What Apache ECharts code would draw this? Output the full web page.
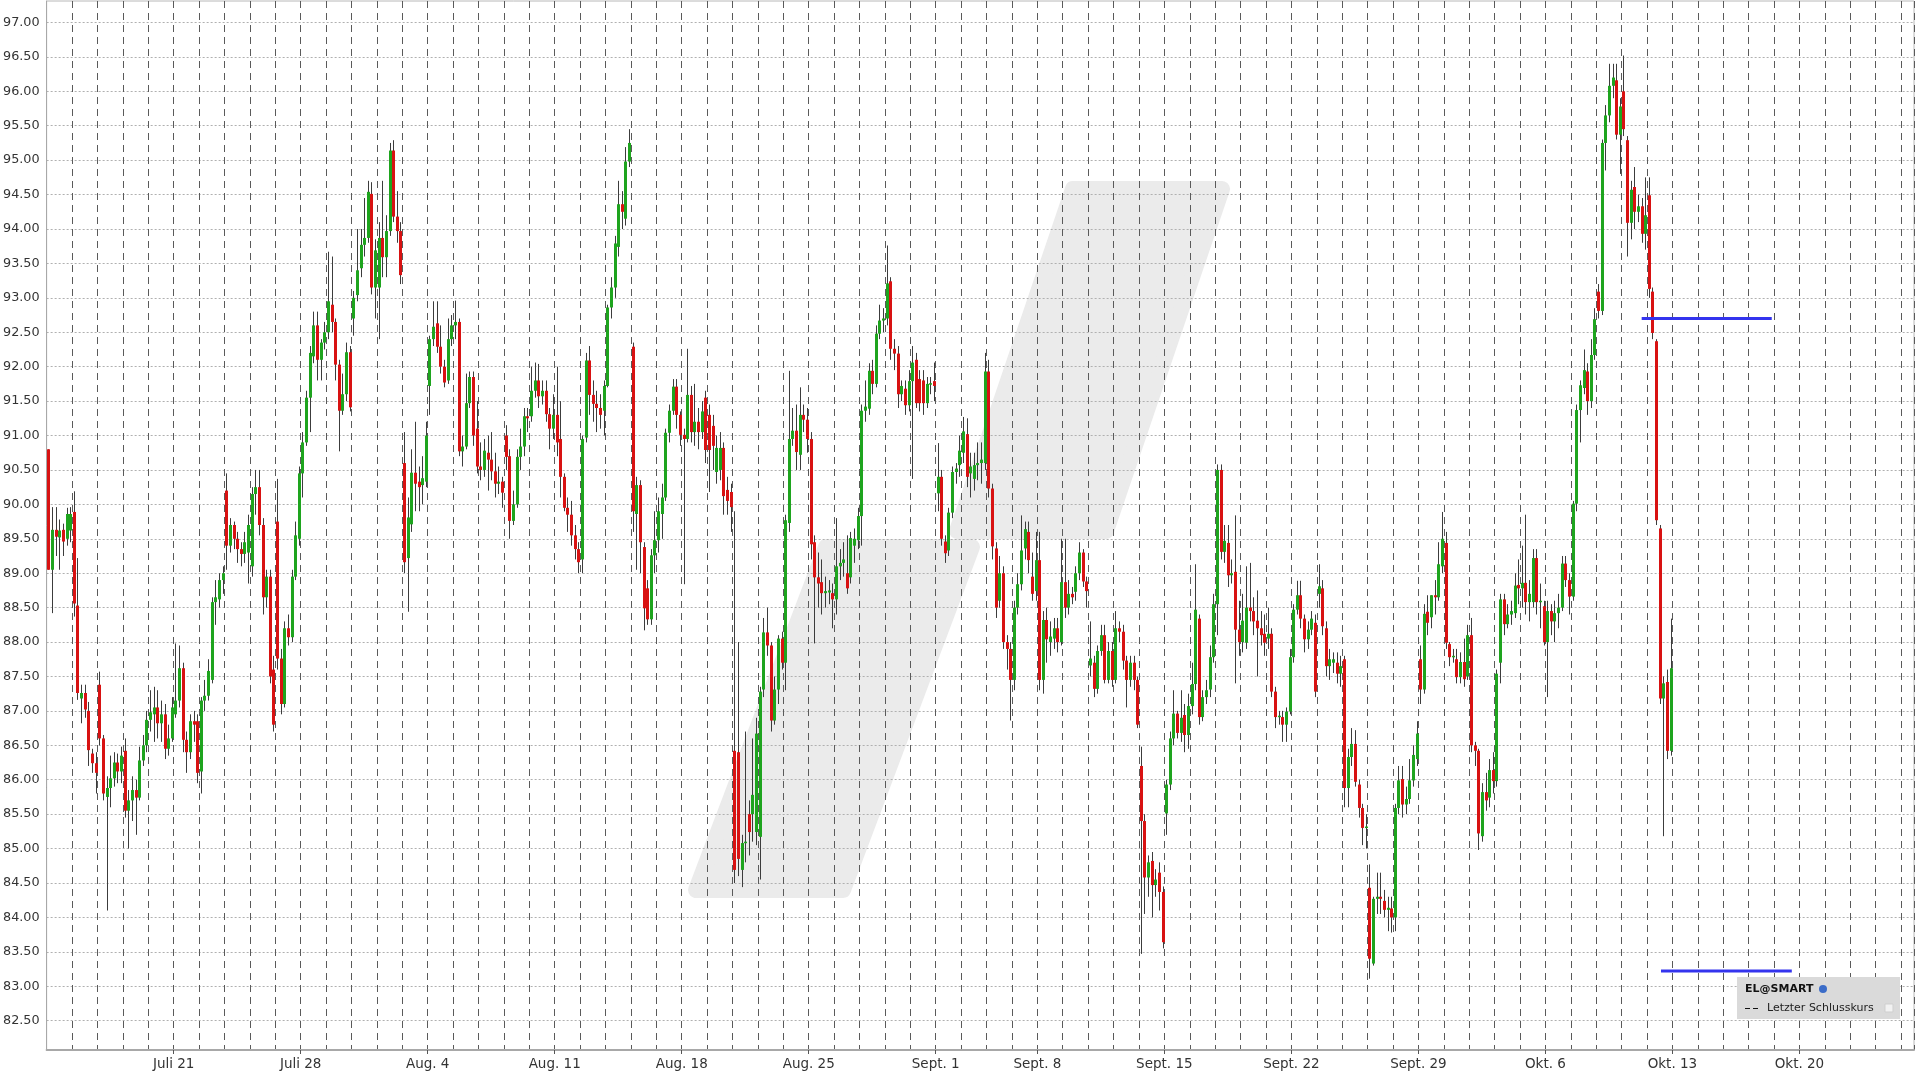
<!DOCTYPE html>
<html><head><meta charset="utf-8">
<script src="https://cdn.jsdelivr.net/npm/echarts@6/dist/echarts.min.js"></script>
<style>html,body{margin:0;padding:0;background:#fff}#c{width:1920px;height:1080px}</style>
</head><body><div id="c"></div>
<script>
// ---- tick labels ----
const weekLabels = ['Juli 21','Juli 28','Aug. 4','Aug. 11','Aug. 18','Aug. 25','Sept. 1','Sept. 8','Sept. 15','Sept. 22','Sept. 29','Okt. 6','Okt. 13','Okt. 20'];
const weekLabelDays = [5,10,15,20,25,30,35,39,44,49,54,59,64,69]; // trading-day index of each label
const yTickValues = [82.5,83,83.5,84,84.5,85,85.5,86,86.5,87,87.5,88,88.5,89,89.5,90,90.5,91,91.5,92,92.5,93,93.5,94,94.5,95,95.5,96,96.5,97];

// ---- hourly candles [open, close, low, high], 7 per trading day ----
const wk0714 = [
 [[90.80,89.05,89.05,90.80],[89.05,89.63,88.42,89.96],[89.63,89.53,89.25,89.96],[89.52,89.62,89.05,89.78],[89.63,89.46,89.25,89.72],[89.50,89.86,89.40,89.95],[89.62,89.86,89.45,89.96]],
 [[89.89,88.56,88.37,90.19],[88.53,87.26,87.16,89.22],[87.18,87.26,86.82,87.38],[87.26,87.02,86.90,87.38],[87.00,86.43,86.20,87.13],[86.38,86.24,86.10,86.45],[86.24,86.10,85.80,86.40]],
 [[87.38,86.60,86.50,87.57],[86.60,85.80,85.70,86.65],[85.75,85.88,84.10,86.05],[85.88,86.02,85.60,86.35],[86.02,86.25,85.90,86.40],[86.25,86.12,85.95,86.38],[86.12,86.35,85.95,86.48]],
 [[86.42,85.55,85.45,86.60],[85.55,85.70,85.00,85.85],[85.70,85.85,85.40,86.05],[85.85,85.74,85.20,86.00],[85.74,86.28,85.70,86.48],[86.28,86.50,86.20,86.65],[86.50,86.87,86.40,87.00]],
 [[86.87,86.98,86.70,87.30],[86.95,87.05,86.55,87.35],[87.05,86.82,86.60,87.30],[86.82,86.95,86.55,87.15],[86.95,86.45,86.30,87.10],[86.45,86.60,86.35,86.80],[86.60,87.05,86.55,87.20]]
];
const wk0721 = [
 [[86.95,87.15,86.90,87.98],[87.15,87.62,87.05,87.95],[87.62,86.58,86.40,87.70],[86.58,86.40,86.10,86.70],[86.40,86.85,86.30,86.95],[86.85,86.80,86.55,87.00],[86.85,86.10,85.95,86.95]],
 [[86.12,87.15,85.80,87.20],[87.15,87.22,87.00,87.45],[87.22,87.58,87.15,87.75],[87.45,88.58,87.40,88.65],[88.58,88.65,88.25,88.90],[88.62,88.90,88.50,89.00],[88.90,89.00,88.70,89.10]],
 [[90.20,89.40,89.05,90.45],[89.40,89.70,89.30,89.80],[89.70,89.50,89.35,89.75],[89.50,89.35,89.15,89.60],[89.35,89.28,89.10,89.45],[89.28,89.45,89.15,89.60],[89.30,89.70,88.85,89.85]],
 [[89.10,90.15,88.95,90.25],[90.15,90.25,89.85,90.50],[90.25,89.70,89.55,90.50],[89.70,88.65,88.40,89.80],[88.65,88.95,88.50,89.05],[88.95,87.50,87.40,89.05],[87.60,86.80,86.70,87.80]],
 [[89.75,87.76,87.60,90.37],[87.76,87.10,86.95,87.90],[87.10,88.20,87.05,88.30],[88.20,88.07,87.95,88.40],[88.07,88.95,88.00,89.05],[88.95,89.55,88.90,89.75],[89.50,90.45,89.40,90.55]]
];
const wk0728 = [
 [[90.45,90.90,90.10,91.05],[90.90,91.55,90.85,91.65],[91.55,92.20,91.05,92.30],[92.15,92.60,92.05,92.80],[92.60,92.10,91.80,92.80],[92.10,92.35,91.80,92.40],[92.35,92.50,92.25,92.65]],
 [[92.50,92.95,92.40,93.67],[92.90,92.65,92.50,93.60],[92.65,92.03,91.80,92.70],[92.03,91.36,90.77,92.10],[91.36,91.60,91.30,91.90],[91.60,92.21,91.50,92.35],[92.21,91.41,91.35,92.30]],
 [[92.70,93.00,92.45,93.10],[93.04,93.40,92.95,94.00],[93.43,93.77,93.30,94.00],[93.77,93.87,93.60,94.45],[93.87,94.54,93.80,94.70],[94.51,93.15,93.05,94.68],[93.15,93.69,92.70,93.85]],
 [[93.15,93.87,92.40,94.10],[93.87,93.59,93.30,94.70],[93.59,93.97,93.30,94.20],[93.97,95.14,93.90,95.25],[95.14,94.18,94.10,95.29],[94.18,93.97,93.80,94.55],[93.97,93.33,93.20,94.10]],
 [[90.60,89.16,89.00,91.05],[89.22,89.81,88.44,90.10],[89.71,90.46,89.60,90.80],[90.46,90.30,89.90,91.20],[90.33,90.25,89.90,90.55],[90.28,90.38,90.00,90.70],[90.33,91.00,90.25,91.20]]
];
const wk0804 = [
 [[91.72,92.40,91.30,92.45],[92.40,92.58,92.30,92.95],[92.63,92.29,92.20,92.95],[92.29,92.00,91.90,92.60],[92.00,91.77,91.70,92.10],[91.80,92.40,91.75,92.70],[92.40,92.60,92.30,92.75]],
 [[92.60,92.65,92.40,92.96],[92.65,90.77,90.70,92.70],[90.77,90.84,90.55,91.00],[90.84,91.47,90.80,91.90],[91.47,91.85,91.40,91.93],[91.85,91.00,90.85,91.93],[91.10,90.55,90.45,91.50]],
 [[90.55,90.50,90.35,90.90],[90.50,90.78,90.40,90.95],[90.75,90.65,90.20,91.00],[90.65,90.48,90.35,91.05],[90.48,90.30,90.10,90.75],[90.30,90.33,90.15,90.55],[90.33,90.17,89.95,90.40]],
 [[91.00,90.69,90.50,91.15],[90.70,89.76,89.50,90.80],[89.76,90.00,89.70,90.20],[90.00,90.69,89.95,90.80],[90.69,90.84,90.50,91.10],[90.84,91.28,90.70,91.40],[91.28,91.25,91.05,91.40]],
 [[91.28,91.65,91.20,92.00],[91.65,91.80,91.55,92.06],[91.80,91.57,91.40,92.04],[91.57,91.65,91.45,91.80],[91.65,91.31,91.20,91.80],[91.31,91.10,90.80,91.40],[91.10,91.30,90.95,91.60]]
];
const wk0811 = [
 [[91.30,90.90,90.70,92.00],[90.95,90.40,90.10,91.50],[90.40,89.95,89.90,90.45],[89.95,89.85,89.60,90.10],[89.85,89.55,89.40,90.05],[89.55,89.35,89.20,89.70],[89.35,89.16,89.00,89.45]],
 [[89.20,90.95,89.00,91.00],[90.97,92.09,90.90,92.20],[92.09,91.59,91.30,92.30],[91.59,91.46,91.20,91.80],[91.46,91.40,91.05,91.65],[91.40,91.30,91.10,91.60],[91.36,91.72,91.00,91.80]],
 [[91.72,92.86,91.70,92.90],[92.86,93.15,92.70,93.30],[93.15,93.79,93.00,93.90],[93.74,94.36,93.60,94.70],[94.36,94.25,94.00,94.55],[94.15,94.98,94.05,95.19],[94.98,95.25,94.90,95.45]],
 [[92.29,89.90,89.60,92.35],[89.86,90.28,89.05,90.40],[90.28,89.45,89.00,90.35],[89.38,88.49,88.17,89.45],[88.78,88.33,88.25,88.90],[88.33,89.26,88.25,89.35],[89.26,89.48,89.00,89.90]],
 [[89.48,89.90,89.30,90.10],[89.86,90.10,89.50,90.30],[90.10,91.04,90.05,91.10],[91.04,91.36,90.90,91.45],[91.36,91.71,91.30,91.82],[91.71,91.30,91.10,91.82],[91.30,91.01,90.85,91.35]]
];
const wk0818 = [
 [[91.01,90.95,88.84,91.10],[90.95,91.59,90.90,92.26],[91.59,91.05,90.90,91.72],[91.05,91.20,90.85,91.75],[91.20,91.05,90.80,91.40],[91.05,91.35,90.95,91.50],[91.55,90.79,90.60,91.65]],
 [[91.30,90.79,90.18,91.45],[91.14,90.85,90.50,91.30],[90.47,90.82,90.30,91.00],[90.50,90.82,90.35,91.05],[90.82,90.12,89.85,90.90],[90.21,90.05,89.85,90.40],[90.18,89.96,89.60,90.30]],
 [[86.42,84.69,84.50,89.90],[86.40,84.85,84.60,88.00],[84.69,85.08,84.44,85.20],[85.08,85.10,84.80,86.70],[85.50,85.24,84.90,85.70],[85.50,85.78,85.10,86.60],[85.24,86.67,85.05,86.90]],
 [[85.17,87.28,84.55,87.35],[87.31,88.14,87.20,88.35],[88.14,87.95,87.80,88.50],[87.95,86.86,86.70,88.00],[86.86,87.31,86.80,87.50],[87.31,88.05,87.10,88.10],[88.05,87.70,87.60,88.15]],
 [[87.70,89.77,87.30,89.85],[89.73,90.95,89.60,91.94],[90.95,91.07,90.85,91.40],[91.07,90.76,90.50,91.45],[90.72,91.30,90.50,91.70],[91.30,91.23,91.05,91.45],[91.23,90.95,90.75,91.40]]
];
const wk0825 = [
 [[90.95,89.42,89.20,91.05],[89.45,88.94,87.98,89.55],[88.94,88.85,88.50,89.30],[88.87,88.71,88.40,89.20],[88.71,88.74,88.50,88.95],[88.72,88.75,88.55,88.90],[88.71,88.62,88.20,88.85]],
 [[88.62,89.10,88.40,89.80],[89.10,89.15,88.90,89.35],[89.15,89.20,88.95,89.45],[89.00,88.78,88.70,89.55],[88.94,89.51,88.85,89.60],[89.40,89.50,89.15,89.65],[89.48,89.83,89.35,89.95]],
 [[89.83,91.36,89.40,91.45],[91.36,91.42,91.20,91.80],[91.39,91.94,91.30,92.05],[91.94,91.75,91.60,92.10],[91.75,92.48,91.70,92.60],[92.48,92.67,92.40,92.90],[92.67,92.70,92.50,92.85]],
 [[92.70,93.21,92.60,93.76],[93.24,92.26,92.10,93.30],[92.26,92.19,91.95,92.40],[92.19,91.60,91.40,92.30],[91.60,91.72,91.50,91.80],[91.68,91.44,91.30,91.80],[91.44,91.79,91.35,91.95]],
 [[91.79,92.06,90.37,92.30],[92.10,91.47,91.40,92.20],[91.82,91.47,91.35,91.95],[91.80,91.47,91.30,91.95],[91.47,91.75,91.40,91.85],[91.75,91.76,91.60,91.85],[91.79,91.72,91.50,92.06]]
];
const wk0902 = [
 [[90.16,90.40,89.90,90.89],[90.40,89.50,89.40,90.50],[89.46,89.29,89.15,89.55],[89.33,89.88,89.25,89.95],[89.88,90.47,89.80,90.55],[90.47,90.52,90.30,90.60],[90.57,90.78,90.40,91.00]],
 [[90.75,91.06,90.60,91.27],[91.02,90.40,90.25,91.25],[90.45,90.55,90.10,90.75],[90.37,90.57,90.20,90.75],[90.57,90.60,90.35,90.90],[90.60,90.65,90.30,90.90],[90.60,91.93,90.50,92.20]],
 [[91.93,90.23,90.10,92.10],[90.23,89.39,89.20,90.30],[89.36,88.50,88.35,89.45],[88.60,89.00,88.50,89.25],[89.00,88.00,87.90,89.10],[88.00,87.90,87.60,88.10],[87.90,87.45,86.86,88.00]],
 [[87.45,88.50,87.30,88.60],[88.50,88.84,88.40,89.00],[88.84,89.33,88.75,89.84],[89.36,89.64,89.20,89.75],[89.60,89.19,89.00,89.75],[88.95,88.70,88.60,89.30],[88.74,89.19,88.60,89.60]]
];
const wk0908 = [
 [[89.19,87.45,87.30,89.60],[87.45,88.32,87.25,88.45],[88.32,88.04,87.70,88.50],[88.00,88.08,87.80,88.30],[88.05,88.20,87.90,88.35],[88.20,88.00,87.85,88.35],[88.00,88.87,87.95,89.50]],
 [[88.87,88.50,88.35,89.50],[88.50,88.70,88.40,88.90],[88.70,88.65,88.55,88.80],[88.73,89.00,88.60,89.10],[89.00,89.30,88.90,89.45],[89.30,88.88,88.80,89.35],[88.88,88.74,88.50,88.95]],
 [[87.66,87.76,87.50,88.30],[87.70,87.32,87.20,87.80],[87.32,87.87,87.25,87.95],[87.87,88.10,87.80,88.25],[88.10,87.45,87.40,88.25],[87.45,87.87,87.40,88.00],[87.87,87.45,87.35,88.00]],
 [[87.45,88.20,87.40,88.45],[88.20,88.15,88.00,88.30],[88.15,87.73,87.60,88.25],[87.73,87.45,87.05,87.80],[87.45,87.70,87.35,87.80],[87.70,87.45,87.30,87.80],[87.45,86.80,86.75,87.50]],
 [[86.20,85.40,83.47,86.48],[85.40,84.58,84.05,85.50],[84.58,84.80,84.30,84.90],[84.82,84.47,84.00,84.95],[84.47,84.55,84.30,84.70],[84.65,84.37,84.10,84.80],[84.37,83.64,83.55,84.45]]
];
const wk0915 = [
 [[85.51,85.93,85.20,86.00],[85.93,86.60,85.85,86.70],[86.60,86.96,86.50,87.30],[86.96,86.68,86.60,87.00],[86.68,86.90,86.55,87.30],[86.94,86.65,86.40,87.10],[86.65,87.07,86.45,87.25]],
 [[87.07,87.39,86.95,87.70],[87.39,88.47,87.30,89.13],[88.34,86.91,86.80,88.40],[86.91,87.20,86.85,87.30],[87.20,87.30,87.10,87.45],[87.31,87.78,87.20,87.95],[87.78,88.55,87.70,88.70]],
 [[88.55,90.50,88.10,90.58],[90.50,89.31,89.20,90.58],[89.31,89.47,89.15,89.70],[89.44,88.97,88.80,89.70],[88.97,89.00,88.85,89.20],[89.02,88.18,87.40,89.84],[88.18,88.00,87.80,88.60]],
 [[88.00,88.31,87.85,88.70],[87.99,88.50,87.90,89.10],[88.50,88.45,88.30,89.15],[88.45,88.30,88.10,88.65],[88.31,88.20,87.50,88.75],[88.20,88.10,87.95,88.45],[88.12,87.99,87.80,88.40]],
 [[88.05,88.12,87.90,88.50],[88.12,87.28,87.20,88.20],[87.28,86.91,86.75,87.35],[86.91,86.93,86.80,87.00],[86.91,86.80,86.55,87.00],[86.80,86.99,86.55,87.05],[86.99,87.78,86.95,87.90]]
];
const wk0922 = [
 [[87.78,88.47,87.70,88.55],[88.47,88.68,88.40,88.89],[88.68,88.34,88.20,88.89],[88.34,88.04,87.85,88.40],[88.04,88.18,87.90,88.30],[88.18,88.34,88.10,88.45],[88.28,87.28,87.20,88.40]],
 [[88.70,88.81,88.50,89.13],[88.78,88.23,88.10,88.90],[88.20,87.65,87.50,88.30],[87.65,87.75,87.45,87.90],[87.70,87.75,87.55,87.85],[87.70,87.54,87.40,87.85],[87.54,87.65,87.35,87.80]],
 [[87.75,85.88,85.60,87.80],[85.88,86.33,85.60,86.45],[86.33,86.52,86.20,86.75],[86.52,85.97,85.90,86.72],[85.93,85.59,85.45,86.00],[85.59,85.30,85.05,85.65],[85.30,85.32,85.00,85.50]],
 [[84.43,83.40,83.11,84.77],[83.33,84.27,83.30,84.30],[84.27,84.30,84.05,84.65],[84.30,84.27,84.05,84.65],[84.24,84.11,84.00,84.40],[84.11,84.14,83.80,84.30],[84.13,84.00,83.78,84.30]],
 [[84.00,85.59,83.80,85.65],[85.59,85.99,85.50,86.20],[86.01,85.64,85.45,86.20],[85.64,85.72,85.50,85.90],[85.72,85.99,85.65,86.30],[85.99,86.36,85.90,86.50],[86.30,86.67,86.20,86.85]]
];
const wk0929 = [
 [[87.75,87.31,87.10,87.95],[87.31,88.41,87.25,88.55],[88.44,88.28,88.10,88.68],[88.36,88.68,88.20,88.68],[88.68,88.65,88.40,88.90],[88.65,89.13,88.60,89.45],[89.10,89.50,89.00,89.89]],
 [[89.44,87.99,87.90,89.60],[87.97,87.78,87.65,88.00],[87.78,87.80,87.70,87.90],[87.75,87.49,87.40,87.90],[87.49,87.71,87.40,87.85],[87.71,87.46,87.35,88.05],[87.50,88.10,87.45,88.25]],
 [[88.10,86.50,86.40,88.35],[86.50,86.42,86.20,86.55],[86.42,85.22,84.98,86.45],[85.18,85.82,85.10,85.95],[85.82,85.70,85.55,86.10],[85.74,86.14,85.60,86.30],[86.14,85.98,85.80,86.40]],
 [[85.98,87.54,85.90,87.60],[87.70,88.62,87.40,88.70],[88.62,88.26,88.10,88.70],[88.26,88.40,88.20,88.55],[88.40,88.45,88.25,88.60],[88.42,88.82,88.35,89.00],[88.83,88.78,88.55,89.20]],
 [[88.78,88.86,88.50,89.40],[88.86,88.58,88.40,89.85],[88.58,88.70,88.30,88.90],[88.58,89.22,88.50,89.35],[89.22,88.58,88.40,89.35],[88.58,88.60,88.20,88.85],[88.52,88.00,87.95,88.60]]
];
const wk1006 = [
 [[88.00,88.45,87.20,88.60],[88.45,88.30,88.10,88.55],[88.30,88.42,88.00,88.60],[88.42,88.50,88.20,88.70],[88.50,89.14,88.45,89.25],[89.14,88.90,88.80,89.25],[88.90,88.66,88.40,89.00]],
 [[88.66,90.01,88.60,90.05],[90.01,91.37,89.90,91.45],[91.37,91.73,90.90,91.80],[91.69,91.95,91.60,92.25],[91.93,91.50,91.30,92.05],[91.50,92.17,91.40,92.40],[92.17,92.69,92.10,92.85]],
 [[93.09,92.81,92.70,93.20],[92.81,95.25,92.75,95.30],[95.25,95.65,94.85,95.80],[95.65,96.08,95.55,96.40],[96.08,96.20,95.90,96.40],[96.16,95.37,95.30,96.40],[95.37,95.78,94.80,95.90]],
 [[96.00,95.45,95.35,96.52],[95.29,94.09,93.60,95.35],[94.09,94.57,93.85,94.70],[94.61,94.25,94.00,94.90],[94.25,94.33,94.10,94.50],[94.33,93.93,93.80,94.45],[93.93,94.20,93.70,94.75]],
 [[94.49,93.13,93.00,94.75],[93.09,92.49,92.40,93.15],[92.37,89.77,89.70,92.40],[89.65,87.18,87.10,89.70],[87.18,87.40,85.18,87.50],[87.42,86.42,86.30,87.60],[86.42,87.62,86.35,88.34]]
];

// ---- horizontal blue levels: [startDay, endDay, price] ----
const levelUpper = [62.79, 67.91, 92.70];
const levelLower = [63.55, 68.70, 83.22];

const weeks = [wk0714, wk0721, wk0728, wk0804, wk0811, wk0818, wk0825, wk0902, wk0908, wk0915, wk0922, wk0929, wk1006];
const SLOTS = 7;
const candles = [];
let dayIdx = 0;
weeks.forEach(w => w.forEach(day => {
  day.forEach((c, s) => candles.push([dayIdx + (s + 0.5) / SLOTS, c[0], c[1], c[2], c[3]]));
  dayIdx++;
}));
const labelMap = {};
weekLabelDays.forEach((d, i) => { labelMap[d] = weekLabels[i]; });

const X_MAX = 73.51;
const FONT = 'DejaVu Sans';
const chart = echarts.init(document.getElementById('c'), null, {renderer: 'canvas'});

function wm(points) {
  return { type: 'polygon', z: -10, silent: true,
    shape: { points },
    style: { fill: '#ebebeb', stroke: '#ebebeb', lineWidth: 16, lineJoin: 'round' } };
}

chart.setOption({
  animation: false,
  backgroundColor: '#ffffff',
  grid: { left: 45, right: 6, top: 1, bottom: 30, show: true, borderColor: '#b8b8b8', borderWidth: 1, backgroundColor: 'transparent' },
  xAxis: [
    { type: 'value', min: 0, max: X_MAX, interval: 1,
      axisLine: { show: true, lineStyle: { color: '#a8a8a8', width: 2 } },
      axisTick: { show: false }, axisLabel: { show: false },
      splitLine: { show: true, lineStyle: { color: '#5a5a5a', type: [7, 5], width: 1 } } },
    { type: 'value', min: 0, max: X_MAX, position: 'bottom',
      axisLine: { show: false }, splitLine: { show: false },
      axisTick: { show: true, customValues: weekLabelDays, length: 4, lineStyle: { color: '#555' } },
      axisLabel: { customValues: weekLabelDays, formatter: v => labelMap[Math.round(v)] || '',
        color: '#333', fontFamily: FONT, fontSize: 13.5, margin: 7 } }
  ],
  yAxis: {
    type: 'value', min: 82.074, max: 97.312,
    axisLine: { show: true, lineStyle: { color: '#a8a8a8' } },
    axisTick: { show: false, customValues: yTickValues },
    axisLabel: { customValues: yTickValues, formatter: v => v.toFixed(2), color: '#333', fontFamily: FONT, fontSize: 12.8, margin: 7 },
    splitLine: { show: true, lineStyle: { color: '#b0b0b0', type: [2, 2], width: 1 } }
  },
  graphic: [
    wm([[696, 890], [843, 890], [972, 547], [826, 547]]),
    wm([[957, 531], [1106, 531], [1222, 189], [1073, 189]]),
    { type: 'rect', z: 100, shape: { x: 1737, y: 977, width: 163, height: 42 }, style: { fill: '#dadada' } },
    { type: 'text', z: 101, style: { x: 1745, y: 989, text: 'EL@SMART', font: 'bold 11px "DejaVu Sans"', fill: '#111', verticalAlign: 'middle' } },
    { type: 'circle', z: 101, shape: { cx: 1823, cy: 989, r: 4 }, style: { fill: '#3b6cc8' } },
    { type: 'line', z: 101, shape: { x1: 1745, y1: 1008.5, x2: 1761, y2: 1008.5 }, style: { stroke: '#111', lineWidth: 1, lineDash: [5, 3] } },
    { type: 'text', z: 101, style: { x: 1767, y: 1008, text: 'Letzter Schlusskurs', font: '11px "DejaVu Sans"', fill: '#222', verticalAlign: 'middle' } },
    { type: 'rect', z: 101, shape: { x: 1885, y: 1004, width: 8, height: 8 }, style: { fill: '#f2f2f2', stroke: '#cfcfcf', lineWidth: 1 } }
  ],
  series: [
    { type: 'custom', xAxisIndex: 0, yAxisIndex: 0, clip: true, z: 5,
      data: candles,
      encode: { x: 0, y: [1, 2, 3, 4] },
      renderItem: function (params, api) {
        const x = api.value(0), o = api.value(1), c = api.value(2), l = api.value(3), h = api.value(4);
        const pO = api.coord([x, o]), pC = api.coord([x, c]);
        const pL = api.coord([x, Math.min(l, o, c)]), pH = api.coord([x, Math.max(h, o, c)]);
        const px = Math.round(pO[0]);
        const top = Math.min(pO[1], pC[1]), bot = Math.max(pO[1], pC[1]);
        return { type: 'group', children: [
          { type: 'line', shape: { x1: px + 0.5, y1: pH[1], x2: px + 0.5, y2: pL[1] }, style: { stroke: '#3c3c3c', lineWidth: 1 } },
          { type: 'rect', shape: { x: px - 1, y: top, width: 3, height: Math.max(1.5, bot - top) }, style: { fill: c >= o ? '#1ea41e' : '#d81212' } }
        ] };
      } },
    { type: 'line', xAxisIndex: 0, yAxisIndex: 0, z: 6, symbol: 'none', silent: true,
      data: [[levelUpper[0], levelUpper[2]], [levelUpper[1], levelUpper[2]]],
      lineStyle: { color: '#3434ee', width: 3 } },
    { type: 'line', xAxisIndex: 0, yAxisIndex: 0, z: 6, symbol: 'none', silent: true,
      data: [[levelLower[0], levelLower[2]], [levelLower[1], levelLower[2]]],
      lineStyle: { color: '#3434ee', width: 3 } }
  ]
});
</script></body></html>
